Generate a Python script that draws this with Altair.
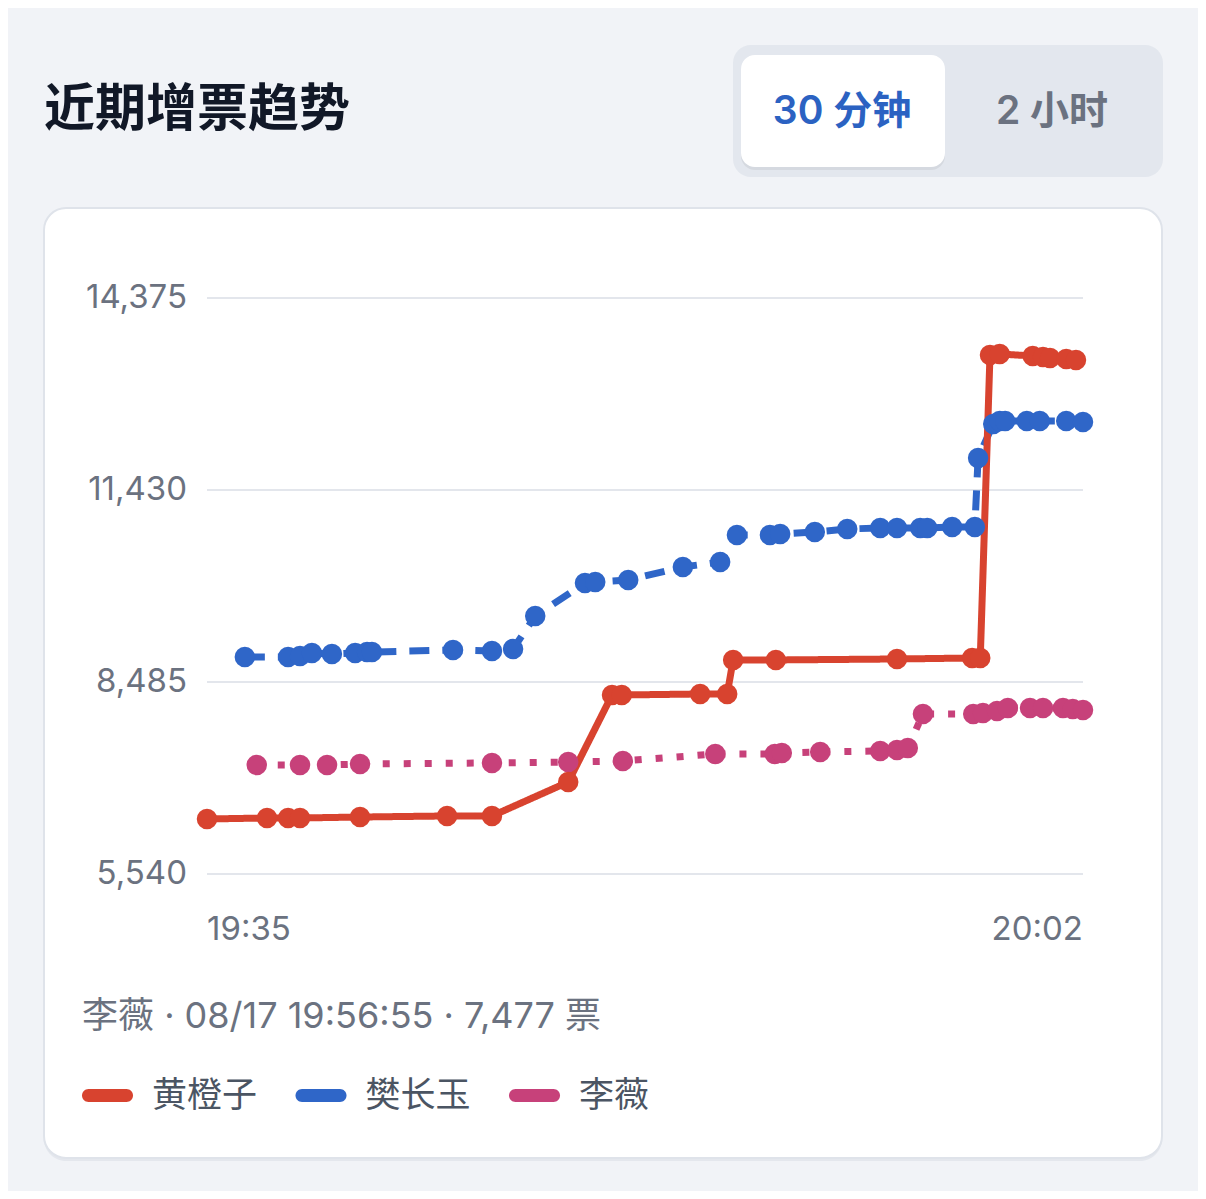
import altair as alt
import pandas as pd

# ---------------- data ----------------
series_names = ["黄橙子", "樊长玉", "李薇"]
series_colors = ["#d8432f", "#2f66c8", "#c7417a"]
series_dashes = [[1, 0], [20, 13], [7, 14]]

red_times = ["19:35:00", "19:36:51", "19:37:30", "19:37:52", "19:39:43", "19:42:24",
             "19:43:47", "19:46:08", "19:47:29", "19:47:47", "19:50:12", "19:51:02",
             "19:51:13", "19:52:32", "19:56:16", "19:58:35", "19:58:50", "19:59:08",
             "19:59:26", "20:00:27", "20:00:46", "20:00:59", "20:01:29", "20:01:47"]
red_votes = [6384, 6399, 6399, 6399, 6414, 6430,
             6430, 6951, 8286, 8286, 8301, 8301,
             8823, 8823, 8838, 8853, 8853, 13501,
             13516, 13486, 13470, 13455, 13440, 13424]

blue_times = ["19:36:10", "19:37:30", "19:37:52", "19:38:14", "19:38:51", "19:39:34",
              "19:39:56", "19:40:05", "19:42:35", "19:43:47", "19:44:26", "19:45:07",
              "19:46:39", "19:46:58", "19:47:59", "19:49:40", "19:50:49", "19:51:20",
              "19:52:21", "19:52:40", "19:53:44", "19:54:44", "19:55:45", "19:56:16",
              "19:56:59", "19:57:12", "19:57:58", "19:58:40", "19:58:46", "19:59:14",
              "19:59:26", "19:59:36", "20:00:16", "20:00:40", "20:01:29", "20:02:00"]
blue_votes = [8869, 8869, 8884, 8930, 8915, 8930,
              8945, 8945, 8976, 8961, 8991, 9497,
              10004, 10019, 10050, 10249, 10326, 10740,
              10740, 10755, 10786, 10832, 10847, 10847,
              10847, 10847, 10863, 10863, 11921, 12443,
              12489, 12489, 12489, 12489, 12489, 12473]

pink_times = ["19:36:32", "19:37:52", "19:38:42", "19:39:43", "19:43:47", "19:46:08",
              "19:47:49", "19:50:40", "19:52:30", "19:52:43", "19:53:54", "19:55:45",
              "19:56:16", "19:56:36", "19:57:04", "19:58:37", "19:58:55", "19:59:21",
              "19:59:41", "20:00:22", "20:00:46", "20:01:23", "20:01:41", "20:02:00"]
pink_votes = [7212, 7212, 7212, 7227, 7243, 7258,
              7273, 7381, 7381, 7396, 7411, 7427,
              7442, 7473, 7994, 7994, 8010, 8040,
              8086, 8086, 8086, 8086, 8071, 8055]

x_tick_labels = ["19:35", "20:02"]
y_ticks = [5540, 8485, 11430, 14375]

title_text = "近期增票趋势"
toggle_labels = ["30 分钟", "2 小时"]

tooltip_series = "李薇"
tooltip_date = "08/17"
tooltip_time = "19:56:55"
tooltip_votes = 7477

# ---------------- helpers ----------------
ORIGIN = 19 * 60 + 35


def to_min(s):
    parts = [int(p) for p in s.split(":")]
    if len(parts) == 2:
        parts.append(0)
    h, m, sec = parts
    return h * 60 + m + sec / 60.0 - ORIGIN


rows = []
for name, times, votes in [("李薇", pink_times, pink_votes),
                           ("樊长玉", blue_times, blue_votes),
                           ("黄橙子", red_times, red_votes)]:
    for t, v in zip(times, votes):
        rows.append({"series": name, "t": to_min(t), "votes": v})
df = pd.DataFrame(rows)

ticks_df = pd.DataFrame({"votes": y_ticks, "label": [f"{v:,}" for v in y_ticks]})
xlab_df = pd.DataFrame({"t": [to_min(s) for s in x_tick_labels], "label": x_tick_labels})
one = pd.DataFrame({"k": [0]})

x_min = to_min(x_tick_labels[0])
x_max = to_min(x_tick_labels[1])

XS = alt.Scale(domain=[x_min, x_max], range=[199, 1075], nice=False, zero=False)
YS = alt.Scale(domain=[y_ticks[0], y_ticks[-1]], range=[866, 290], nice=False, zero=False)
X = alt.X("t:Q", scale=XS, axis=None)
Y = alt.Y("votes:Q", scale=YS, axis=None)
color_scale = alt.Scale(domain=series_names, range=series_colors)

FONT = "Inter, 'Noto Sans CJK SC', sans-serif"
CJK = "'Noto Sans CJK SC', sans-serif"
GREY = "#6b7280"


def rect(x, x2, y, y2, **kw):
    return alt.Chart(one).mark_rect(**kw).encode(
        x=alt.value(x), x2=alt.value(x2), y=alt.value(y), y2=alt.value(y2))


def text(txt, x, y, **kw):
    return alt.Chart(one).mark_text(text=txt, **kw).encode(x=alt.value(x), y=alt.value(y))


# ---------------- decorations ----------------
title = text(title_text, 36, 103, align="left", baseline="middle", fontSize=51,
             fontWeight="bold", font=CJK, color="#111827")

toggle_bg = rect(725, 1155, 37, 169, cornerRadius=18, fill="#e3e7ee")
toggle_shadow = rect(733, 937, 49, 162, cornerRadius=14, fill="#000000", opacity=0.06)
toggle_btn = rect(733, 937, 47, 159, cornerRadius=14, fill="#ffffff")
toggle_a = text(toggle_labels[0], 834, 104, align="center", baseline="middle", fontSize=39,
                fontWeight=600, font=FONT, color="#2b62c2")
toggle_b = text(toggle_labels[1], 1044, 104, align="center", baseline="middle", fontSize=39,
                fontWeight=600, font=FONT, color=GREY)

card_shadow = rect(36, 1154, 204, 1153, cornerRadius=22, fill="#e4e7ed")
card = rect(36, 1154, 200, 1150, cornerRadius=22, fill="#ffffff", stroke="#dfe3ea", strokeWidth=2)

tooltip_line = text(f"{tooltip_series} · {tooltip_date} {tooltip_time} · {tooltip_votes:,} 票",
                    74, 1009, align="left", baseline="middle", fontSize=36, font=FONT, color=GREY)

# manual legend (rounded colour bars + names)
legend_layers = []
for i, (name, col) in enumerate(zip(series_names, series_colors)):
    x0 = 74 + i * 213.5
    legend_layers.append(rect(x0, x0 + 51, 1081, 1094, cornerRadius=6.5, fill=col))
    legend_layers.append(text(name, x0 + 70, 1088, align="left", baseline="middle",
                              fontSize=35, font=CJK, color="#4b5563"))

# ---------------- plot ----------------
grid = alt.Chart(ticks_df).mark_rule(color="#e3e6ec", strokeWidth=2).encode(
    y=Y, x=alt.value(199), x2=alt.value(1075))

ylabels = alt.Chart(ticks_df).mark_text(align="right", baseline="middle", fontSize=33,
                                        font=FONT, color=GREY).encode(
    y=Y, x=alt.value(179), text="label:N")

xlab_left = alt.Chart(xlab_df.iloc[[0]]).mark_text(align="left", baseline="middle", fontSize=33,
                                                  font=FONT, color=GREY).encode(
    x=X, y=alt.value(922), text="label:N")
xlab_right = alt.Chart(xlab_df.iloc[[1]]).mark_text(align="right", baseline="middle", fontSize=33,
                                                   font=FONT, color=GREY).encode(
    x=X, y=alt.value(922), text="label:N")

lines = alt.Chart(df).mark_line(strokeWidth=7, strokeCap="butt", strokeJoin="round").encode(
    x=X, y=Y,
    color=alt.Color("series:N", scale=color_scale, legend=None),
    strokeDash=alt.StrokeDash("series:N",
                              scale=alt.Scale(domain=series_names, range=series_dashes),
                              legend=None),
)

points = alt.Chart(df).mark_circle(size=420, opacity=1).encode(
    x=X, y=Y,
    color=alt.Color("series:N", scale=color_scale, legend=None),
)

chart = alt.layer(
    card_shadow, card, title, toggle_bg, toggle_shadow, toggle_btn, toggle_a, toggle_b,
    grid, ylabels, xlab_left, xlab_right, lines, points, tooltip_line, *legend_layers,
).properties(
    width=1190, height=1183, padding=0,
    autosize=alt.AutoSizeParams(type="none"),
    background="#f1f3f7",
).configure_view(stroke=None)

chart.save("out.html", embed_options={"renderer": "svg", "actions": False})
